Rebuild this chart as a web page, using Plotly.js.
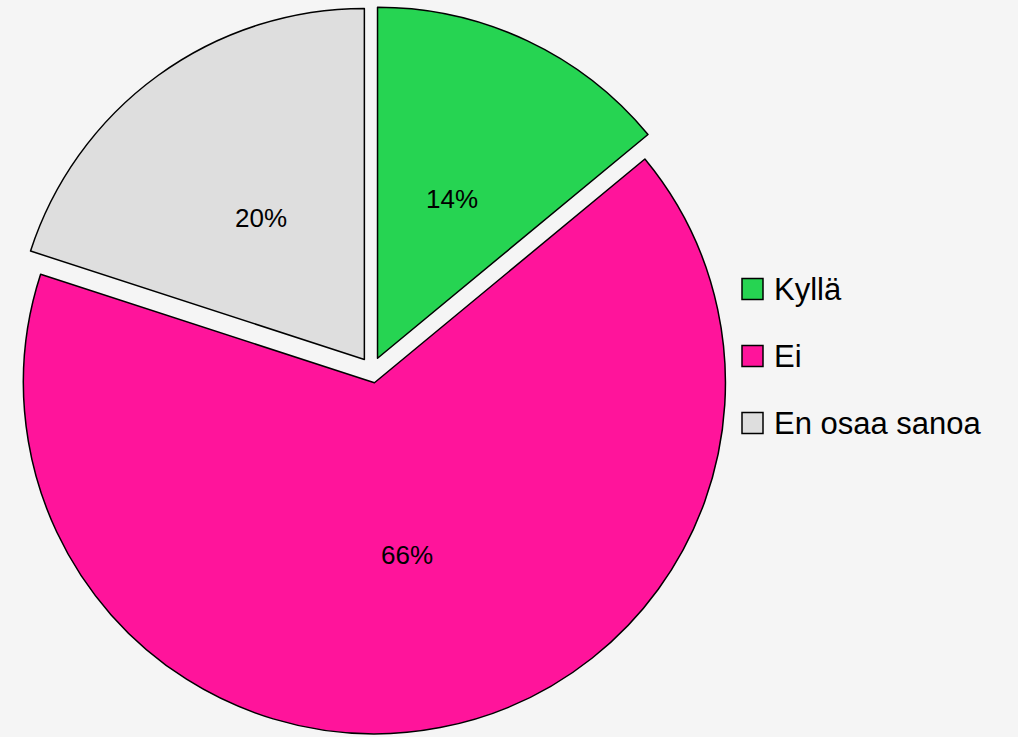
<!DOCTYPE html>
<html>
<head>
<meta charset="utf-8">
<script src="https://cdn.plot.ly/plotly-3.0.1.min.js"></script>
<style>html,body{margin:0;padding:0;background:#f5f5f5;}#chart{width:1018px;height:737px;}</style>
</head>
<body>
<div id="chart"></div>
<script>
const labels = ["Kyllä", "Ei", "En osaa sanoa"];
const values = [14, 66, 20];
const colors = ["#26d452", "#ff149b", "#dedede"];

const W = 1018, H = 737;
const pull = 0.037;
const dom = {x: [8 / W, 736 / W], y: [3 / H, 731 / H]};
const trace = {
  type: "pie",
  labels: labels,
  values: values,
  sort: false,
  direction: "clockwise",
  rotation: 0,
  pull: values.map(() => pull),
  marker: {colors: colors, line: {color: "#000000", width: 1.5}},
  textinfo: "none",
  domain: dom,
  showlegend: false,
  hoverinfo: "label+percent"
};

const shapes = [], annotations = [];
const font = "Liberation Sans, Arial, sans-serif";

// percentage labels placed at half radius along each slice's bisector (like the original)
const total = values.reduce((a, b) => a + b, 0);
const cxPx = (dom.x[0] + dom.x[1]) / 2 * W;
const cyPx = (1 - (dom.y[0] + dom.y[1]) / 2) * H;
const rPx = Math.min((dom.x[1] - dom.x[0]) * W, (dom.y[1] - dom.y[0]) * H) / 2 / (1 + pull);
let cum = 0;
values.forEach((v, i) => {
  const a = (cum + v / 2) / total * 2 * Math.PI;
  cum += v;
  const d = rPx * (pull + 0.5);
  const px = cxPx + d * Math.sin(a), py = cyPx - d * Math.cos(a);
  annotations.push({xref: "paper", yref: "paper", x: px / W, y: 1 - py / H,
    xanchor: "center", yanchor: "middle", showarrow: false,
    text: Math.round(v / total * 100) + "%",
    font: {family: font, size: 26, color: "#000000"}});
});

// custom legend built from labels/colors
const legX = 742, legSize = 21, legY0 = 289, legStep = 67;
labels.forEach((lab, i) => {
  const cy = legY0 + i * legStep;
  shapes.push({type: "rect", xref: "paper", yref: "paper",
    x0: legX / W, x1: (legX + legSize) / W,
    y0: 1 - (cy + legSize / 2) / H, y1: 1 - (cy - legSize / 2) / H,
    fillcolor: colors[i], line: {color: "#000000", width: 1.5}});
  annotations.push({xref: "paper", yref: "paper", x: 772 / W, y: 1 - cy / H,
    xanchor: "left", yanchor: "middle", showarrow: false, text: lab,
    font: {family: font, size: 31, color: "#000000"}});
});

const layout = {
  width: W, height: H,
  margin: {l: 0, r: 0, t: 0, b: 0},
  paper_bgcolor: "#f5f5f5",
  plot_bgcolor: "#f5f5f5",
  showlegend: false,
  shapes: shapes,
  annotations: annotations
};
Plotly.newPlot("chart", [trace], layout, {displayModeBar: false});
</script>
</body>
</html>
